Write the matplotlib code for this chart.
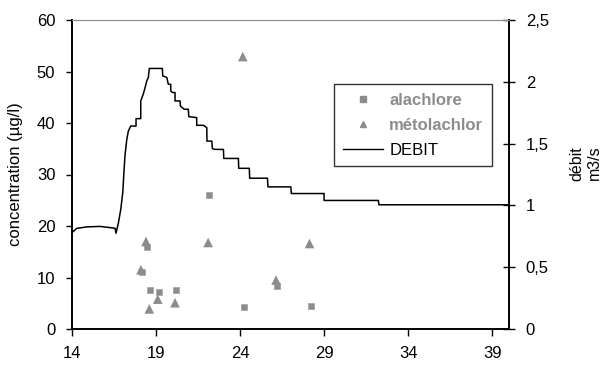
import numpy as np
import matplotlib.pyplot as plt
from matplotlib.lines import Line2D

plt.rcParams['font.family'] = ['Liberation Sans', 'DejaVu Sans']

# concentrations (µg/l)
t_ala = [18.48, 18.18, 18.66, 19.16, 20.17, 22.17, 24.22, 26.20, 28.20]
alachlore = [15.9, 11.0, 7.6, 7.1, 7.6, 26.1, 4.3, 8.4, 4.5]
t_meto = [18.40, 18.10, 18.60, 19.10, 20.13, 22.10, 24.16, 26.14, 28.13]
metolachlor = [17.0, 11.5, 3.9, 5.8, 5.1, 16.8, 52.9, 9.5, 16.6]

# discharge (m3/s)
t_debit = [14.00, 14.28, 14.88, 15.67, 16.40, 16.56, 16.62, 16.76, 16.90, 17.02,
           17.10, 17.15, 17.26, 17.35, 17.49, 17.81, 17.81, 18.09, 18.09, 18.24,
           18.35, 18.45, 18.54, 18.60, 19.375, 19.40, 19.64, 19.73, 19.875, 19.875,
           19.99, 20.13, 20.13, 20.43, 20.45, 20.67, 20.92, 20.95, 21.42, 21.42,
           21.82, 22.02, 22.03, 22.32, 22.35, 22.51, 23.01, 23.03, 23.90, 23.92,
           24.55, 24.57, 25.63, 25.66, 27.02, 27.05, 29.00, 29.00, 32.23, 32.26, 40.0]
debit = [0.78, 0.814, 0.826, 0.830, 0.818, 0.815, 0.775, 0.858, 0.966, 1.104,
         1.29, 1.40, 1.534, 1.60, 1.642, 1.642, 1.702, 1.702, 1.845, 1.90,
         1.954, 2.007, 2.035, 2.108, 2.108, 2.048, 2.035, 1.98, 1.98, 1.926,
         1.913, 1.913, 1.845, 1.845, 1.804, 1.778, 1.778, 1.718, 1.710, 1.648,
         1.648, 1.629, 1.520, 1.520, 1.459, 1.453, 1.453, 1.38, 1.38, 1.30,
         1.30, 1.22, 1.22, 1.15, 1.15, 1.096, 1.096, 1.04, 1.04, 1.005, 1.005]

grey = '#8c8c8c'

fig = plt.figure(figsize=(6.01, 3.65), dpi=100)
ax1 = fig.add_axes([72 / 601, 1 - 329 / 365, 437 / 601, 309 / 365])
ax2 = ax1.twinx()

ax1.scatter(t_ala, alachlore, marker='s', s=24, color=grey, edgecolors='#a0a0a0', linewidths=0.5, zorder=3)
ax1.scatter(t_meto, metolachlor, marker='^', s=48, color=grey, edgecolors='none', zorder=3)
ax2.plot(t_debit, debit, color='black', lw=1.1)

ax1.set_xlim(14, 40)
ax1.set_ylim(0, 60)
ax2.set_ylim(0, 2.5)
ax1.set_xticks([14, 19, 24, 29, 34, 39])
ax1.set_yticks(range(0, 61, 10))
ax2.set_yticks([0, 0.5, 1, 1.5, 2, 2.5])
ax2.set_yticklabels(['0', '0,5', '1', '1,5', '2', '2,5'])

for ax in (ax1, ax2):
    ax.spines['top'].set_color('#909090')
    ax.spines['top'].set_linewidth(0.8)
    ax.spines['left'].set_linewidth(1.2)
    ax.spines['right'].set_linewidth(1.2)
    ax.spines['bottom'].set_linewidth(1.2)

ax1.tick_params(axis='y', direction='out', length=4, width=1, pad=8, labelsize=12)
ax1.tick_params(axis='x', direction='out', length=5, width=1, pad=7, labelsize=12)
ax2.tick_params(axis='y', direction='inout', length=8, width=1, pad=8, labelsize=12)

ax1.set_ylabel('concentration (µg/l)', fontsize=12, labelpad=10)
# right axis title, two lines rotated
fig.text(0.974, 0.553, 'débit\nm3/s', fontsize=11.5, rotation=90,
         ha='center', va='center', multialignment='center')

handles = [
    Line2D([], [], marker='s', ls='none', color=grey, markersize=4),
    Line2D([], [], marker='^', ls='none', color=grey, markersize=5),
    Line2D([], [], color='black', lw=1),
]
leg = ax1.legend(handles, ['alachlore', 'métolachlor', 'DEBIT'],
                 loc='upper left', bbox_to_anchor=(0.600, 0.792), fontsize=12,
                 frameon=True, fancybox=False, handlelength=2.4, borderpad=0.5,
                 labelspacing=0.6, handletextpad=0.4, borderaxespad=0)
leg.get_frame().set_edgecolor('black')
leg.get_frame().set_linewidth(1)
for txt in leg.get_texts()[:2]:
    txt.set_color(grey)
    txt.set_fontweight('bold')

plt.savefig('out.png', dpi=100)
